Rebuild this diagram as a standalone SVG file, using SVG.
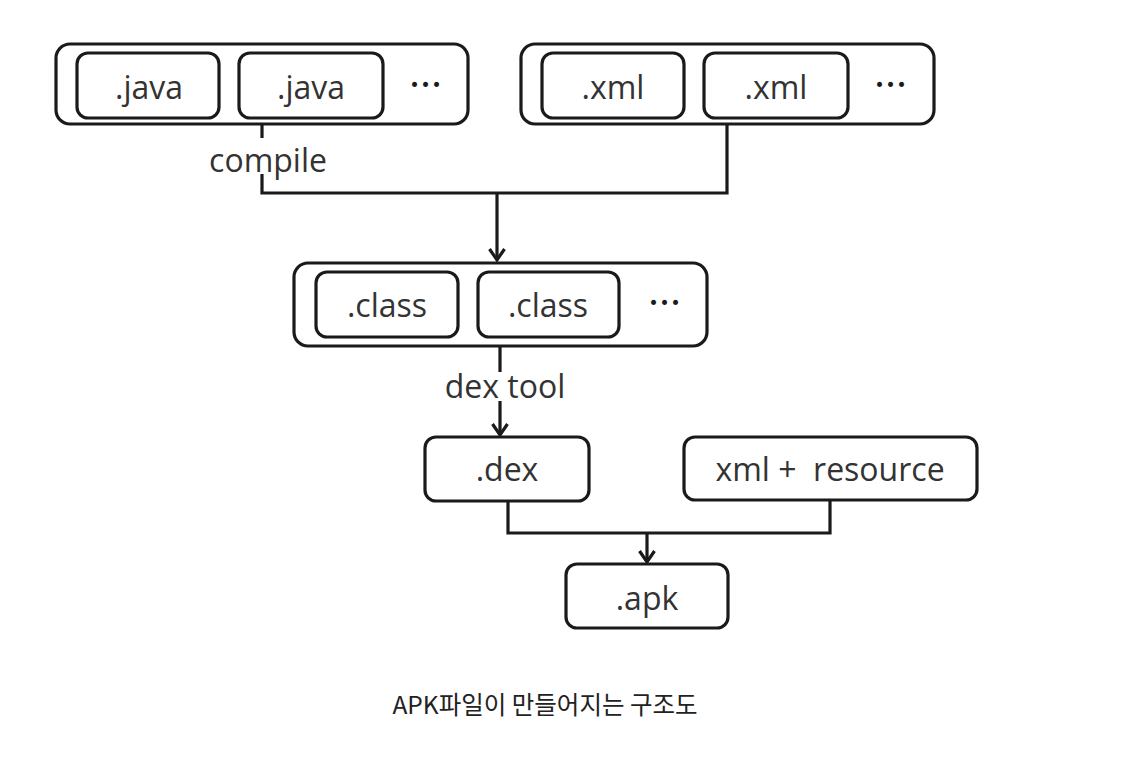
<svg xmlns="http://www.w3.org/2000/svg" width="1126" height="764" viewBox="0 0 1126 764">
<style>
.box{fill:#fff;stroke:#1a1a1a;stroke-width:3.2}
.ln{fill:none;stroke:#1a1a1a;stroke-width:3.2}
.t{font-family:"Open Sans","Noto Sans",sans-serif;font-size:32px;fill:#333;text-anchor:middle;dominant-baseline:central}
.d{font-family:"DejaVu Sans",sans-serif;font-size:17px;fill:#1a1a1a;text-anchor:middle;dominant-baseline:central;letter-spacing:1px}
.cap{font-family:"Noto Sans CJK KR","Noto Sans",sans-serif;font-size:24.5px;fill:#222;text-anchor:middle}
</style>
<defs>
<marker id="ah" markerWidth="16" markerHeight="18" refX="13" refY="9" orient="auto" markerUnits="userSpaceOnUse" viewBox="0 0 16 18">
<path d="M2,1.5 L13,9 L2,16.5" fill="none" stroke="#1a1a1a" stroke-width="3.2"/>
</marker>
</defs>
<rect width="1126" height="764" fill="#fff"/>
<g id="connectors">
<path class="ln" d="M262,124 V138 M262,174 V193 H727 V123"/>
<path class="ln" d="M497,193 V260" marker-end="url(#ah)"/>
<path class="ln" d="M500,346 V372 M500,401 V435" marker-end="url(#ah)"/>
<path class="ln" d="M508,502 V533 H830 V500"/>
<path class="ln" d="M647,533 V562" marker-end="url(#ah)"/>
<text class="t" x="268" y="159">compile</text>
<text class="t" x="505" y="385">dex tool</text>
</g>
<g id="java-group">
<rect class="box" x="56" y="44" width="412" height="80" rx="14"/>
<g id="java1"><rect class="box" x="77" y="53" width="142" height="65" rx="11"/><text class="t" x="149" y="86">.java</text></g>
<g id="java2"><rect class="box" x="239" y="53" width="144" height="65" rx="11"/><text class="t" x="311" y="86">.java</text></g>
<text class="d" x="426" y="85">•••</text>
</g>
<g id="xml-group">
<rect class="box" x="521" y="44" width="413" height="80" rx="14"/>
<g id="xml1"><rect class="box" x="542" y="53" width="142" height="65" rx="11"/><text class="t" x="613" y="86">.xml</text></g>
<g id="xml2"><rect class="box" x="704" y="53" width="144" height="65" rx="11"/><text class="t" x="776" y="86">.xml</text></g>
<text class="d" x="891" y="85">•••</text>
</g>
<g id="class-group">
<rect class="box" x="294" y="263" width="413" height="83" rx="14"/>
<g id="class1"><rect class="box" x="316" y="272" width="142" height="65" rx="11"/><text class="t" x="387" y="304">.class</text></g>
<g id="class2"><rect class="box" x="478" y="272" width="141" height="65" rx="11"/><text class="t" x="548" y="304">.class</text></g>
<text class="d" x="665" y="303">•••</text>
</g>
<g id="dex"><rect class="box" x="425" y="437" width="164" height="64" rx="11"/><text class="t" x="507" y="468">.dex</text></g>
<g id="resource"><rect class="box" x="684" y="437" width="293" height="63" rx="11"/><text class="t" x="830" y="468" xml:space="preserve">xml +  resource</text></g>
<g id="apk"><rect class="box" x="566" y="564" width="162" height="64" rx="11"/><text class="t" x="647" y="597">.apk</text></g>
<text class="cap" x="545" y="714">APK파일이 만들어지는 구조도</text>
</svg>
